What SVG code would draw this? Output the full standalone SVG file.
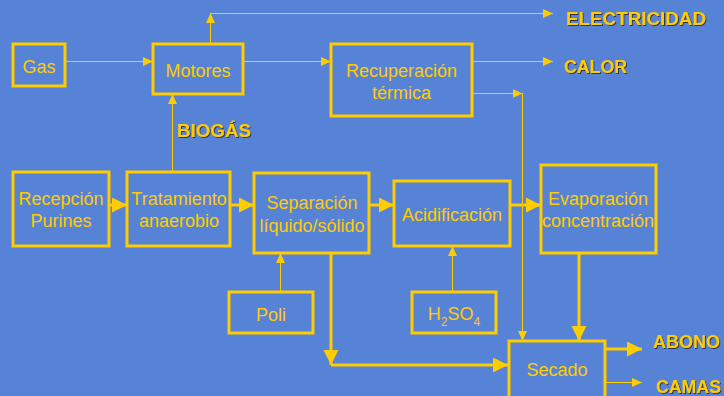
<svg xmlns="http://www.w3.org/2000/svg" width="724" height="396" viewBox="0 0 724 396">
<defs>
<style>
.box{fill:none;stroke:#FFCC00;stroke-width:3}
.t{font-family:"Liberation Sans",Arial,sans-serif;font-size:18px;fill:#FFCC00;text-anchor:middle}
.sub{font-size:12px}
.lbl{font-family:"Liberation Sans",Arial,sans-serif;font-size:18px;font-weight:bold;fill:#FFCC00;filter:url(#sh)}
.thin{fill:none;stroke:#FFCC00;stroke-width:1;marker-end:url(#ah)}
.thick{fill:none;stroke:#FFCC00;stroke-width:3;marker-end:url(#AH)}
</style>
<marker id="ah" markerUnits="userSpaceOnUse" markerWidth="10" markerHeight="10" refX="10" refY="4.5" orient="auto">
<path d="M0,0 L10,4.5 L0,9 z" fill="#FFCC00"/>
</marker>
<marker id="AH" markerUnits="userSpaceOnUse" markerWidth="16" markerHeight="16" refX="15" refY="7.5" orient="auto">
<path d="M0,0 L15,7.5 L0,15 z" fill="#FFCC00"/>
</marker>
<filter id="sh" x="-5%" y="-20%" width="110%" height="140%">
<feDropShadow dx="1" dy="1" stdDeviation="0" flood-color="#2a2a40" flood-opacity="0.9"/>
</filter>
</defs>
<rect width="724" height="396" fill="#5783D6"/>

<g id="connectors">
<path class="thin" d="M65,61.5 H153"/>
<path class="thin" d="M210.5,44 V13"/>
<path class="thin" d="M210,13.5 H553"/>
<path class="thin" d="M243,61.5 H331"/>
<path class="thin" d="M472,61.5 H553"/>
<path class="thin" d="M472,93.5 H522.5"/>
<path class="thin" d="M522.5,93 V341"/>
<path class="thin" d="M172.5,172 V94"/>
<path class="thick" d="M109,205 H127"/>
<path class="thick" d="M230,205 H254"/>
<path class="thick" d="M369,205 H394"/>
<path class="thick" d="M510,205 H541"/>
<path class="thin" d="M280.5,292 V253"/>
<path class="thin" d="M452.5,292 V246"/>
<path class="thick" d="M331,253 V365"/>
<path class="thick" d="M331,365 H508"/>
<path class="thick" d="M579,253 V341"/>
<path class="thick" d="M604,349 H642"/>
<path class="thin" d="M604,382.5 H642"/>
</g>

<g id="gas"><rect class="box" x="13" y="44" width="52" height="42"/><text class="t" x="39" y="73">Gas</text></g>
<g id="motores"><rect class="box" x="153" y="44" width="90" height="50"/><text class="t" x="198" y="77">Motores</text></g>
<g id="recuperacion"><rect class="box" x="331" y="44" width="141" height="72"/><text class="t" x="401.5" y="77">Recuperación</text><text class="t" x="401.5" y="99">térmica</text></g>
<g id="recepcion"><rect class="box" x="13" y="172" width="96" height="74"/><text class="t" x="61" y="205">Recepción</text><text class="t" x="61" y="227">Purines</text></g>
<g id="tratamiento"><rect class="box" x="127" y="172" width="103" height="74"/><text class="t" x="179" y="205">Tratamiento</text><text class="t" x="179" y="227">anaerobio</text></g>
<g id="separacion"><rect class="box" x="254" y="173" width="115" height="80"/><text class="t" x="312" y="209">Separación</text><text class="t" x="312" y="232">líquido/sólido</text></g>
<g id="acidificacion"><rect class="box" x="394" y="181" width="116" height="65"/><text class="t" x="452" y="221">Acidificación</text></g>
<g id="evaporacion"><rect class="box" x="541" y="165" width="115" height="88"/><text class="t" x="598" y="205">Evaporación</text><text class="t" x="598" y="227">concentración</text></g>
<g id="poli"><rect class="box" x="229" y="292" width="84" height="41"/><text class="t" x="271" y="321">Poli</text></g>
<g id="h2so4"><rect class="box" x="412" y="292" width="84" height="41"/><text class="t" x="454" y="320">H<tspan class="sub" dy="6">2</tspan><tspan dy="-6">SO</tspan><tspan class="sub" dy="6">4</tspan></text></g>
<g id="secado"><rect class="box" x="509" y="341" width="96" height="62"/><text class="t" x="557" y="376">Secado</text></g>

<g id="labels">
<text class="lbl" x="566" y="25" textLength="140" lengthAdjust="spacingAndGlyphs">ELECTRICIDAD</text>
<text class="lbl" x="564" y="73" textLength="63" lengthAdjust="spacingAndGlyphs">CALOR</text>
<text class="lbl" x="177" y="137" textLength="74" lengthAdjust="spacingAndGlyphs">BIOGÁS</text>
<text class="lbl" x="653" y="348" textLength="67" lengthAdjust="spacingAndGlyphs">ABONO</text>
<text class="lbl" x="656" y="393" textLength="65" lengthAdjust="spacingAndGlyphs">CAMAS</text>
</g>
</svg>
